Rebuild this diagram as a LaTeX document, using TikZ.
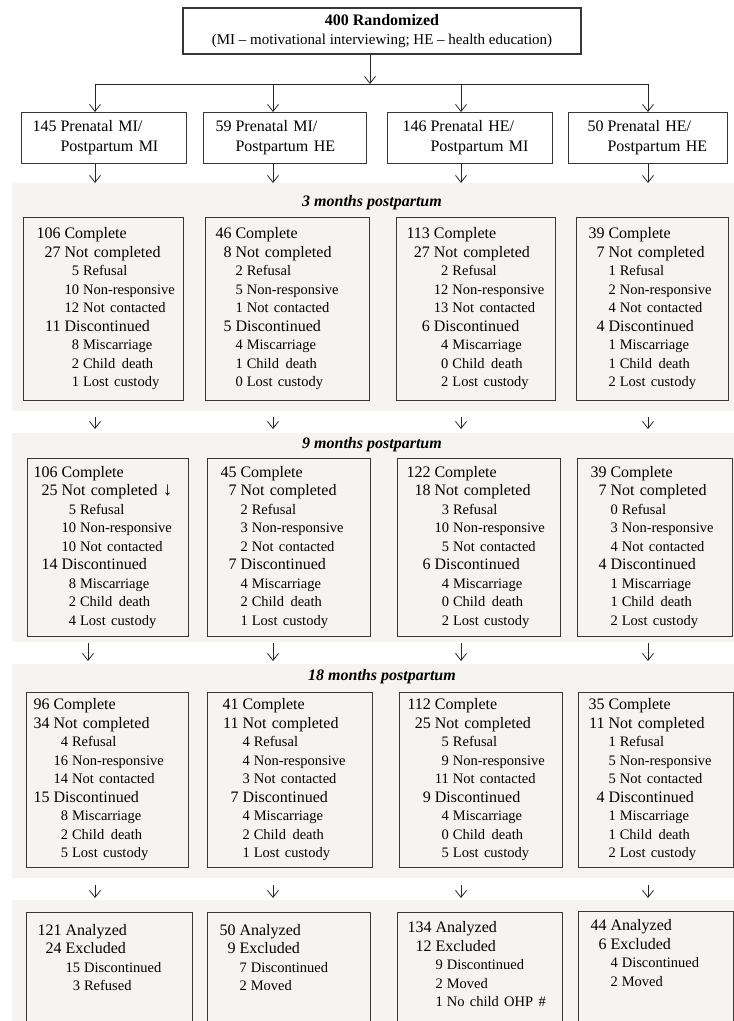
\documentclass[tikz,border=0pt]{standalone}
\usepackage{fontspec}
\setmainfont{Liberation Serif}
\usetikzlibrary{arrows.meta}
\definecolor{bandgray}{RGB}{245,244,240}
\definecolor{linegray}{RGB}{55,55,55}
\newcommand{\mainfnt}{\fontsize{16}{18.5}\selectfont}
\newcommand{\subfnt}{\fontsize{14.5}{18.5}\selectfont}
\newcommand{\mainrow}[2]{#1 & \multicolumn{2}{@{}l@{}}{#2}\\}
\newcommand{\subrow}[2]{& \subfnt #1 & \subfnt #2\\}
\newcommand{\cdeath}{Child\hspace{0.45em}death}
\newcommand{\grp}[3]{\begin{tabular}{@{}l@{\hspace{4pt}}l@{}}#1 & #2\\[1.5pt] & #3\end{tabular}}
\newenvironment{counts}[1][c]{\mainfnt\begin{tabular}[#1]{@{}r@{\hspace{4pt}}r@{\hspace{4pt}}l@{}}}{\end{tabular}}
\begin{document}
\begin{tikzpicture}[x=1pt, y=-1pt,
  box/.style={draw=linegray, line width=1.1pt, anchor=north west, inner ysep=0pt, align=left, font=\mainfnt},
  cbox/.style={box, fill=bandgray},
  band/.style={fill=bandgray, anchor=north west, inner sep=0pt, minimum width=722pt},
  title/.style={font=\fontsize{16}{18}\selectfont\bfseries\itshape},
  arr/.style={-{Straight Barb[length=7pt,width=11pt]}, line width=0.8pt, draw=black!85}]
  \useasboundingbox (0,0) rectangle (734,1021);

  % grey bands, one for each follow-up
  \node[band, minimum height=228pt] (band1) at (12,183) {};
  \node[band, minimum height=209pt] (band2) at (12,433) {};
  \node[band, minimum height=214pt] (band3) at (12,664) {};
  \node[band, minimum height=130pt] (band4) at (12,900) {};

  \node[title] (t1) at (372,203) {3 months postpartum};
  \node[title] (t2) at (372,445) {9 months postpartum};
  \node[title] (t3) at (382,677) {18 months postpartum};

  % randomization and the four groups
  \node[box, anchor=center, minimum width=398pt, minimum height=46pt, align=center, inner ysep=2pt] (top) at (382,31)
    {\textbf{400 Randomized}\\{\fontsize{15}{18}\selectfont (MI – motivational interviewing; HE – health education)}};

  \node[box, fill=white, inner xsep=11pt, text width=143pt, minimum height=51pt] (g1) at (21,112) {\grp{145}{Prenatal MI/}{Postpartum MI}};
  \node[box, fill=white, inner xsep=12pt, text width=139pt, minimum height=51pt] (g2) at (203,112) {\grp{59}{Prenatal MI/}{Postpartum HE}};
  \node[box, fill=white, inner xsep=15pt, text width=135pt, minimum height=51pt] (g3) at (387,112) {\grp{146}{Prenatal HE/}{Postpartum MI}};
  \node[box, fill=white, inner xsep=19pt, text width=121pt, minimum height=51pt] (g4) at (568,112) {\grp{50}{Prenatal HE/}{Postpartum HE}};

  % 3 months
  \node[cbox, inner xsep=13pt, text width=134pt, minimum height=183pt] (a1) at (23,217) {\begin{counts}
    \mainrow{106}{Complete}
    \mainrow{27}{Not completed}
    \subrow{5}{Refusal}
    \subrow{10}{Non-responsive}
    \subrow{12}{Not contacted}
    \mainrow{11}{Discontinued}
    \subrow{8}{Miscarriage}
    \subrow{2}{\cdeath}
    \subrow{1}{Lost custody}
  \end{counts}};
  \node[cbox, inner xsep=10pt, text width=144pt, minimum height=183pt] (a2) at (205,217) {\begin{counts}
    \mainrow{46}{Complete}
    \mainrow{8}{Not completed}
    \subrow{2}{Refusal}
    \subrow{5}{Non-responsive}
    \subrow{1}{Not contacted}
    \mainrow{5}{Discontinued}
    \subrow{4}{Miscarriage}
    \subrow{1}{\cdeath}
    \subrow{0}{Lost custody}
  \end{counts}};
  \node[cbox, inner xsep=10pt, text width=139pt, minimum height=183pt] (a3) at (396,217) {\begin{counts}
    \mainrow{113}{Complete}
    \mainrow{27}{Not completed}
    \subrow{2}{Refusal}
    \subrow{12}{Non-responsive}
    \subrow{13}{Not contacted}
    \mainrow{6}{Discontinued}
    \subrow{4}{Miscarriage}
    \subrow{0}{\cdeath}
    \subrow{2}{Lost custody}
  \end{counts}};
  \node[cbox, inner xsep=12pt, text width=128pt, minimum height=183pt] (a4) at (576,217) {\begin{counts}
    \mainrow{39}{Complete}
    \mainrow{7}{Not completed}
    \subrow{1}{Refusal}
    \subrow{2}{Non-responsive}
    \subrow{4}{Not contacted}
    \mainrow{4}{Discontinued}
    \subrow{1}{Miscarriage}
    \subrow{1}{\cdeath}
    \subrow{2}{Lost custody}
  \end{counts}};

  % 9 months
  \node[cbox, inner xsep=6pt, text width=149pt, minimum height=178pt] (b1) at (27,458) {\begin{counts}
    \mainrow{106}{Complete}
    \mainrow{25}{Not completed {\fontsize{19}{18.5}\selectfont ↓}}
    \subrow{5}{Refusal}
    \subrow{10}{Non-responsive}
    \subrow{10}{Not contacted}
    \mainrow{14}{Discontinued}
    \subrow{8}{Miscarriage}
    \subrow{2}{\cdeath}
    \subrow{4}{Lost custody}
  \end{counts}};
  \node[cbox, inner xsep=13pt, text width=137pt, minimum height=178pt] (b2) at (207,458) {\begin{counts}
    \mainrow{45}{Complete}
    \mainrow{7}{Not completed}
    \subrow{2}{Refusal}
    \subrow{3}{Non-responsive}
    \subrow{2}{Not contacted}
    \mainrow{7}{Discontinued}
    \subrow{4}{Miscarriage}
    \subrow{2}{\cdeath}
    \subrow{1}{Lost custody}
  \end{counts}};
  \node[cbox, inner xsep=9pt, text width=145pt, minimum height=178pt] (b3) at (397,458) {\begin{counts}
    \mainrow{122}{Complete}
    \mainrow{18}{Not completed}
    \subrow{3}{Refusal}
    \subrow{10}{Non-responsive}
    \subrow{5}{Not contacted}
    \mainrow{6}{Discontinued}
    \subrow{4}{Miscarriage}
    \subrow{0}{\cdeath}
    \subrow{2}{Lost custody}
  \end{counts}};
  \node[cbox, inner xsep=13pt, text width=129pt, minimum height=178pt] (b4) at (577,458) {\begin{counts}
    \mainrow{39}{Complete}
    \mainrow{7}{Not completed}
    \subrow{0}{Refusal}
    \subrow{3}{Non-responsive}
    \subrow{4}{Not contacted}
    \mainrow{4}{Discontinued}
    \subrow{1}{Miscarriage}
    \subrow{1}{\cdeath}
    \subrow{2}{Lost custody}
  \end{counts}};

  % 18 months
  \node[cbox, inner xsep=7pt, text width=148pt, minimum height=175pt] (c1box) at (26,692) {\begin{counts}
    \mainrow{96}{Complete}
    \mainrow{34}{Not completed}
    \subrow{4}{Refusal}
    \subrow{16}{Non-responsive}
    \subrow{14}{Not contacted}
    \mainrow{15}{Discontinued}
    \subrow{8}{Miscarriage}
    \subrow{2}{\cdeath}
    \subrow{5}{Lost custody}
  \end{counts}};
  \node[cbox, inner xsep=15pt, text width=135pt, minimum height=175pt] (c2box) at (207,692) {\begin{counts}
    \mainrow{41}{Complete}
    \mainrow{11}{Not completed}
    \subrow{4}{Refusal}
    \subrow{4}{Non-responsive}
    \subrow{3}{Not contacted}
    \mainrow{7}{Discontinued}
    \subrow{4}{Miscarriage}
    \subrow{2}{\cdeath}
    \subrow{1}{Lost custody}
  \end{counts}};
  \node[cbox, inner xsep=8pt, text width=147pt, minimum height=175pt] (c3box) at (399,692) {\begin{counts}
    \mainrow{112}{Complete}
    \mainrow{25}{Not completed}
    \subrow{5}{Refusal}
    \subrow{9}{Non-responsive}
    \subrow{11}{Not contacted}
    \mainrow{9}{Discontinued}
    \subrow{4}{Miscarriage}
    \subrow{0}{\cdeath}
    \subrow{5}{Lost custody}
  \end{counts}};
  \node[cbox, inner xsep=10pt, text width=135pt, minimum height=175pt] (c4box) at (578,692) {\begin{counts}
    \mainrow{35}{Complete}
    \mainrow{11}{Not completed}
    \subrow{1}{Refusal}
    \subrow{5}{Non-responsive}
    \subrow{5}{Not contacted}
    \mainrow{4}{Discontinued}
    \subrow{1}{Miscarriage}
    \subrow{1}{\cdeath}
    \subrow{2}{Lost custody}
  \end{counts}};

  % analyzed
  \node[cbox, inner xsep=11pt, inner ysep=9.5pt, text width=144pt, text depth=110pt] (d1) at (26,912) {\begin{counts}[t]
    \mainrow{121}{Analyzed}
    \mainrow{24}{Excluded}
    \subrow{15}{Discontinued}
    \subrow{3}{Refused}
  \end{counts}};
  \node[cbox, inner xsep=12pt, inner ysep=9.5pt, text width=139pt, text depth=110pt] (d2) at (207,912) {\begin{counts}[t]
    \mainrow{50}{Analyzed}
    \mainrow{9}{Excluded}
    \subrow{7}{Discontinued}
    \subrow{2}{Moved}
  \end{counts}};
  \node[cbox, inner xsep=10pt, inner ysep=7pt, text width=145pt, text depth=110pt] (d3) at (397,912) {\begin{counts}[t]
    \mainrow{134}{Analyzed}
    \mainrow{12}{Excluded}
    \subrow{9}{Discontinued}
    \subrow{2}{Moved}
    \subrow{1}{No child OHP \#}
  \end{counts}};
  \node[cbox, inner xsep=12pt, inner ysep=6pt, text width=131pt, text depth=110pt] (d4) at (578,911) {\begin{counts}[t]
    \mainrow{44}{Analyzed}
    \mainrow{6}{Excluded}
    \subrow{4}{Discontinued}
    \subrow{2}{Moved}
  \end{counts}};

  % connectors
  \coordinate (split) at (370,84);
  \coordinate (c1) at (95,0);
  \coordinate (c1b) at (88,0);
  \coordinate (c2) at (273,0);
  \coordinate (c3) at (461,0);
  \coordinate (c4) at (648,0);
  \draw[arr] (top.south -| split) -- (split);
  \draw[line width=0.8pt, black!85] (c1 |- split) -- (c4 |- split);
  \foreach \c/\g in {c1/g1,c2/g2,c3/g3,c4/g4} {
    \draw[arr] (\c |- split) -- (\c |- \g.north);
    \draw[arr] (\c |- \g.south) -- (\c |- band1.north);
  }
  \foreach \c in {c1,c2,c3,c4}
    \draw[arr] ([yshift=-6pt]\c |- band1.south) -- ([yshift=4pt]\c |- band2.north);
  \foreach \c in {c1b,c2,c3,c4}
    \draw[arr] ([yshift=-1pt]\c |- band2.south) -- ([yshift=3pt]\c |- band3.north);
  \foreach \c in {c1,c2,c3,c4}
    \draw[arr] ([yshift=-7pt]\c |- band3.south) -- ([yshift=2pt]\c |- band4.north);
\end{tikzpicture}
\end{document}
